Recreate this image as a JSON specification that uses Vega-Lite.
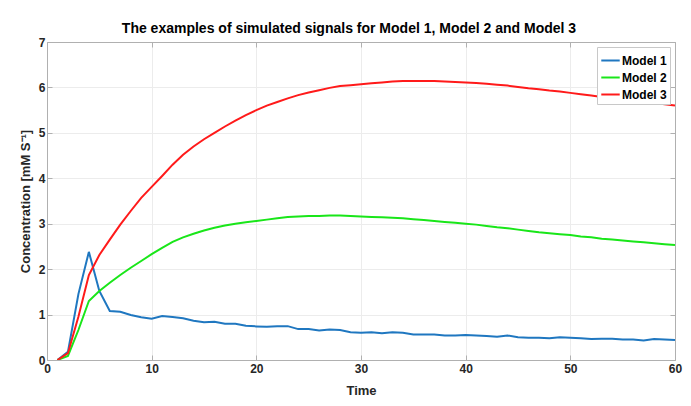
{
  "$schema": "https://vega.github.io/schema/vega-lite/v6.json",
  "autosize": "none",
  "width": 628,
  "height": 318,
  "padding": {"left": 47, "top": 42, "right": 16, "bottom": 46},
  "background": "white",
  "title": {
    "text": "The examples of simulated signals for Model 1, Model 2 and Model 3",
    "font": "Liberation Sans",
    "fontSize": 14,
    "fontWeight": "bold",
    "color": "#000000",
    "anchor": "middle",
    "offset": 0,
    "dx": -12
  },
  "config": {
    "view": {"stroke": null},
    "axis": {
      "labelFont": "Liberation Sans",
      "labelFontWeight": "bold",
      "labelFontSize": 12,
      "labelColor": "#262626",
      "titleFont": "Liberation Sans",
      "titleFontWeight": "bold",
      "titleFontSize": 13,
      "titleColor": "#262626",
      "domainColor": "#b0b0b0",
      "tickColor": "#b0b0b0",
      "gridColor": "#ececec",
      "tickSize": -5
    }
  },
  "data": {
    "values": [
      {"t":1,"m":"Model 1","v":0},{"t":2,"m":"Model 1","v":0.18},{"t":3,"m":"Model 1","v":1.45},{"t":4,"m":"Model 1","v":2.38},{"t":5,"m":"Model 1","v":1.52},
      {"t":6,"m":"Model 1","v":1.08},{"t":7,"m":"Model 1","v":1.06},{"t":8,"m":"Model 1","v":0.99},{"t":9,"m":"Model 1","v":0.94},{"t":10,"m":"Model 1","v":0.91},
      {"t":11,"m":"Model 1","v":0.97},{"t":12,"m":"Model 1","v":0.945},{"t":13,"m":"Model 1","v":0.92},{"t":14,"m":"Model 1","v":0.865},{"t":15,"m":"Model 1","v":0.83},
      {"t":16,"m":"Model 1","v":0.84},{"t":17,"m":"Model 1","v":0.8},{"t":18,"m":"Model 1","v":0.8},{"t":19,"m":"Model 1","v":0.755},{"t":20,"m":"Model 1","v":0.74},
      {"t":21,"m":"Model 1","v":0.73},{"t":22,"m":"Model 1","v":0.745},{"t":23,"m":"Model 1","v":0.745},{"t":24,"m":"Model 1","v":0.68},{"t":25,"m":"Model 1","v":0.68},
      {"t":26,"m":"Model 1","v":0.65},{"t":27,"m":"Model 1","v":0.67},{"t":28,"m":"Model 1","v":0.66},{"t":29,"m":"Model 1","v":0.61},{"t":30,"m":"Model 1","v":0.6},
      {"t":31,"m":"Model 1","v":0.61},{"t":32,"m":"Model 1","v":0.59},{"t":33,"m":"Model 1","v":0.61},{"t":34,"m":"Model 1","v":0.6},{"t":35,"m":"Model 1","v":0.56},
      {"t":36,"m":"Model 1","v":0.56},{"t":37,"m":"Model 1","v":0.56},{"t":38,"m":"Model 1","v":0.54},{"t":39,"m":"Model 1","v":0.54},{"t":40,"m":"Model 1","v":0.55},
      {"t":41,"m":"Model 1","v":0.54},{"t":42,"m":"Model 1","v":0.53},{"t":43,"m":"Model 1","v":0.51},{"t":44,"m":"Model 1","v":0.54},{"t":45,"m":"Model 1","v":0.5},
      {"t":46,"m":"Model 1","v":0.49},{"t":47,"m":"Model 1","v":0.49},{"t":48,"m":"Model 1","v":0.48},{"t":49,"m":"Model 1","v":0.5},{"t":50,"m":"Model 1","v":0.49},
      {"t":51,"m":"Model 1","v":0.48},{"t":52,"m":"Model 1","v":0.46},{"t":53,"m":"Model 1","v":0.47},{"t":54,"m":"Model 1","v":0.47},{"t":55,"m":"Model 1","v":0.45},
      {"t":56,"m":"Model 1","v":0.45},{"t":57,"m":"Model 1","v":0.43},{"t":58,"m":"Model 1","v":0.46},{"t":59,"m":"Model 1","v":0.45},{"t":60,"m":"Model 1","v":0.44},

      {"t":1,"m":"Model 2","v":0},{"t":2,"m":"Model 2","v":0.09},{"t":3,"m":"Model 2","v":0.66},{"t":4,"m":"Model 2","v":1.3},{"t":5,"m":"Model 2","v":1.52},
      {"t":6,"m":"Model 2","v":1.7},{"t":7,"m":"Model 2","v":1.87},{"t":8,"m":"Model 2","v":2.03},{"t":9,"m":"Model 2","v":2.18},{"t":10,"m":"Model 2","v":2.33},
      {"t":11,"m":"Model 2","v":2.47},{"t":12,"m":"Model 2","v":2.6},{"t":13,"m":"Model 2","v":2.7},{"t":14,"m":"Model 2","v":2.78},{"t":15,"m":"Model 2","v":2.85},
      {"t":16,"m":"Model 2","v":2.91},{"t":17,"m":"Model 2","v":2.96},{"t":18,"m":"Model 2","v":3.0},{"t":19,"m":"Model 2","v":3.03},{"t":20,"m":"Model 2","v":3.06},
      {"t":21,"m":"Model 2","v":3.09},{"t":22,"m":"Model 2","v":3.12},{"t":23,"m":"Model 2","v":3.15},{"t":24,"m":"Model 2","v":3.16},{"t":25,"m":"Model 2","v":3.17},
      {"t":26,"m":"Model 2","v":3.17},{"t":27,"m":"Model 2","v":3.18},{"t":28,"m":"Model 2","v":3.18},{"t":29,"m":"Model 2","v":3.17},{"t":30,"m":"Model 2","v":3.16},
      {"t":31,"m":"Model 2","v":3.15},{"t":32,"m":"Model 2","v":3.14},{"t":33,"m":"Model 2","v":3.13},{"t":34,"m":"Model 2","v":3.12},{"t":35,"m":"Model 2","v":3.1},
      {"t":36,"m":"Model 2","v":3.08},{"t":37,"m":"Model 2","v":3.06},{"t":38,"m":"Model 2","v":3.04},{"t":39,"m":"Model 2","v":3.02},{"t":40,"m":"Model 2","v":3.0},
      {"t":41,"m":"Model 2","v":2.98},{"t":42,"m":"Model 2","v":2.95},{"t":43,"m":"Model 2","v":2.92},{"t":44,"m":"Model 2","v":2.9},{"t":45,"m":"Model 2","v":2.87},
      {"t":46,"m":"Model 2","v":2.84},{"t":47,"m":"Model 2","v":2.81},{"t":48,"m":"Model 2","v":2.79},{"t":49,"m":"Model 2","v":2.77},{"t":50,"m":"Model 2","v":2.75},
      {"t":51,"m":"Model 2","v":2.72},{"t":52,"m":"Model 2","v":2.7},{"t":53,"m":"Model 2","v":2.67},{"t":54,"m":"Model 2","v":2.65},{"t":55,"m":"Model 2","v":2.63},
      {"t":56,"m":"Model 2","v":2.61},{"t":57,"m":"Model 2","v":2.59},{"t":58,"m":"Model 2","v":2.57},{"t":59,"m":"Model 2","v":2.55},{"t":60,"m":"Model 2","v":2.53},

      {"t":1,"m":"Model 3","v":0},{"t":2,"m":"Model 3","v":0.15},{"t":3,"m":"Model 3","v":0.95},{"t":4,"m":"Model 3","v":1.87},{"t":5,"m":"Model 3","v":2.31},
      {"t":6,"m":"Model 3","v":2.65},{"t":7,"m":"Model 3","v":2.98},{"t":8,"m":"Model 3","v":3.28},{"t":9,"m":"Model 3","v":3.57},{"t":10,"m":"Model 3","v":3.81},
      {"t":11,"m":"Model 3","v":4.05},{"t":12,"m":"Model 3","v":4.3},{"t":13,"m":"Model 3","v":4.52},{"t":14,"m":"Model 3","v":4.7},{"t":15,"m":"Model 3","v":4.86},
      {"t":16,"m":"Model 3","v":5.0},{"t":17,"m":"Model 3","v":5.14},{"t":18,"m":"Model 3","v":5.27},{"t":19,"m":"Model 3","v":5.39},{"t":20,"m":"Model 3","v":5.5},
      {"t":21,"m":"Model 3","v":5.6},{"t":22,"m":"Model 3","v":5.68},{"t":23,"m":"Model 3","v":5.76},{"t":24,"m":"Model 3","v":5.83},{"t":25,"m":"Model 3","v":5.89},
      {"t":26,"m":"Model 3","v":5.94},{"t":27,"m":"Model 3","v":5.99},{"t":28,"m":"Model 3","v":6.03},{"t":29,"m":"Model 3","v":6.05},{"t":30,"m":"Model 3","v":6.07},
      {"t":31,"m":"Model 3","v":6.09},{"t":32,"m":"Model 3","v":6.11},{"t":33,"m":"Model 3","v":6.13},{"t":34,"m":"Model 3","v":6.14},{"t":35,"m":"Model 3","v":6.14},
      {"t":36,"m":"Model 3","v":6.14},{"t":37,"m":"Model 3","v":6.14},{"t":38,"m":"Model 3","v":6.13},{"t":39,"m":"Model 3","v":6.12},{"t":40,"m":"Model 3","v":6.11},
      {"t":41,"m":"Model 3","v":6.1},{"t":42,"m":"Model 3","v":6.08},{"t":43,"m":"Model 3","v":6.06},{"t":44,"m":"Model 3","v":6.04},{"t":45,"m":"Model 3","v":6.01},
      {"t":46,"m":"Model 3","v":5.98},{"t":47,"m":"Model 3","v":5.96},{"t":48,"m":"Model 3","v":5.93},{"t":49,"m":"Model 3","v":5.91},{"t":50,"m":"Model 3","v":5.88},
      {"t":51,"m":"Model 3","v":5.85},{"t":52,"m":"Model 3","v":5.82},{"t":53,"m":"Model 3","v":5.79},{"t":54,"m":"Model 3","v":5.77},{"t":55,"m":"Model 3","v":5.74},
      {"t":56,"m":"Model 3","v":5.71},{"t":57,"m":"Model 3","v":5.69},{"t":58,"m":"Model 3","v":5.66},{"t":59,"m":"Model 3","v":5.63},{"t":60,"m":"Model 3","v":5.6}
    ]
  },
  "layer": [
    {
      "mark": {"type": "line", "strokeWidth": 2, "clip": true},
      "encoding": {
        "x": {
          "field": "t", "type": "quantitative",
          "scale": {"domain": [0, 60], "nice": false, "zero": false},
          "axis": {"orient": "bottom", "title": "Time", "values": [0, 10, 20, 30, 40, 50, 60], "labelPadding": 8, "titlePadding": 10, "grid": true, "labelFlush": false}
        },
        "y": {
          "field": "v", "type": "quantitative",
          "scale": {"domain": [0, 7], "nice": false},
          "axis": {"orient": "left", "title": "Concentration [mM S⁻¹]", "values": [0, 1, 2, 3, 4, 5, 6, 7], "labelPadding": 7, "titlePadding": 6, "grid": true}
        },
        "color": {
          "field": "m", "type": "nominal",
          "scale": {"domain": ["Model 1", "Model 2", "Model 3"], "range": ["#1f77c0", "#19e619", "#ff1a1a"]},
          "legend": {
            "title": null,
            "orient": "top-right",
            "offset": 5,
            "symbolType": "stroke",
            "symbolSize": 340,
            "symbolStrokeWidth": 2,
            "labelFont": "Liberation Sans",
            "labelFontWeight": "bold",
            "labelFontSize": 12,
            "labelColor": "#000000",
            "fillColor": "white",
            "strokeColor": "#c8c8c8",
            "padding": 3,
            "rowPadding": -2,
            "labelOffset": 1
          }
        }
      }
    },
    {
      "mark": {"type": "line", "opacity": 0},
      "encoding": {
        "x": {
          "field": "t", "type": "quantitative",
          "axis": {"orient": "top", "title": null, "labels": false, "values": [0, 10, 20, 30, 40, 50, 60], "grid": false}
        },
        "y": {
          "field": "v", "type": "quantitative",
          "axis": {"orient": "right", "title": null, "labels": false, "values": [0, 1, 2, 3, 4, 5, 6, 7], "grid": false}
        }
      }
    }
  ],
  "resolve": {"axis": {"x": "independent", "y": "independent"}}
}
